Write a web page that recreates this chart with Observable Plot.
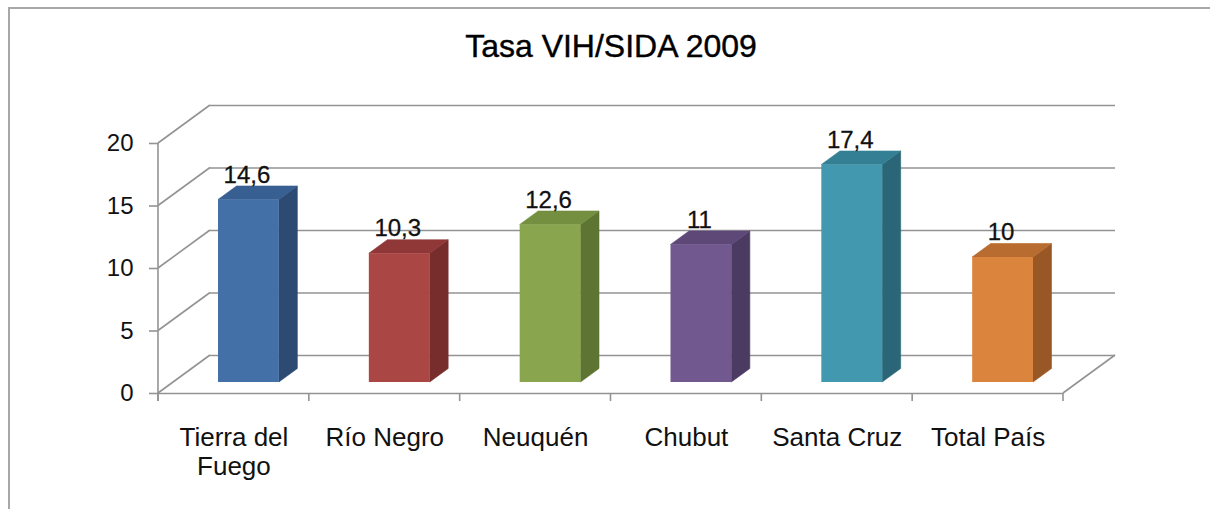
<!DOCTYPE html>
<html>
<head>
<meta charset="utf-8">
<script src="https://cdn.jsdelivr.net/npm/d3@7"></script>
<script src="https://cdn.jsdelivr.net/npm/@observablehq/plot@0.6"></script>
<style>
  body { margin: 0; background: #fff; font-family: "Liberation Sans", Arial, sans-serif; }
  #wrap { position: relative; width: 1210px; height: 509px; overflow: hidden; background: #fff; }
  #border { position: absolute; left: 8px; top: 7px; width: 1400px; height: 700px;
            border-top: 2px solid #a8a8a8; border-left: 2px solid #a8a8a8; }
  #title { position: relative; height: 90px; box-sizing: border-box; padding-top: 30px; padding-left: 12px;
           text-align: center; font-size: 32px; line-height: 32px; color: #000; -webkit-text-stroke: 0.4px #000; }
  #chart { position: relative; }
  #chart svg { display: block; }
</style>
</head>
<body>
<div id="wrap">
  <div id="border"></div>
  <div id="title">Tasa VIH/SIDA 2009</div>
  <div id="chart"></div>
</div>
<script>
// ---- data ----
const categories = ["Tierra del Fuego", "Río Negro", "Neuquén", "Chubut", "Santa Cruz", "Total País"];
const categoryLabels = ["Tierra del\nFuego", "Río Negro", "Neuquén", "Chubut", "Santa Cruz", "Total País"];
const rates = [14.6, 10.3, 12.6, 11, 17.4, 10];
const rateLabels = ["14,6", "10,3", "12,6", "11", "17,4", "10"];
const frontColors = ["#4470A8", "#AA4644", "#89A54E", "#71588F", "#4198AF", "#DB843D"];
const sideColors  = ["#2C4A72", "#772D2C", "#5D7433", "#4B3A62", "#2A6677", "#9A5726"];
const topColors   = ["#385F92", "#8F3837", "#748F3F", "#5D4878", "#347F93", "#B86C2F"];
const yTicks = [0, 5, 10, 15, 20];

// ---- styling ----
const gridColor = "#939393";
const depth = {dx: 52, dy: -38};        // back wall offset (px)
const barFront = {dx: 15, dy: -11};     // bar front face offset (px)
const barDepth = {dx: 18.5, dy: -13.5}; // bar depth (px)
const inset = 45;

const data = categories.map((c, i) => ({
  category: c, rate: rates[i], label: rateLabels[i],
  front: frontColors[i], side: sideColors[i], top: topColors[i]
}));
const labelOf = new Map(categories.map((c, i) => [c, categoryLabels[i]]));

// left wall, floor edges, axis line and category boundary ticks
function walls(index, {x, y}, values, dim) {
  const g = d3.create("svg:g").attr("fill", "none").attr("stroke", gridColor).attr("stroke-width", 1.6);
  const x0 = dim.marginLeft, x1 = dim.width - dim.marginRight;
  for (const t of yTicks) {
    g.append("line").attr("x1", x0).attr("y1", y(t)).attr("x2", x0 + depth.dx).attr("y2", y(t) + depth.dy);
  }
  g.append("line").attr("x1", x1).attr("y1", y(0)).attr("x2", x1 + depth.dx).attr("y2", y(0) + depth.dy);
  g.append("line").attr("x1", x0).attr("y1", y(yTicks[yTicks.length - 1])).attr("x2", x0).attr("y2", y(0) + 8);
  const bw = x.bandwidth();
  const bounds = categories.map(c => x(c)).concat([x(categories[categories.length - 1]) + bw]);
  for (const b of bounds) {
    g.append("line").attr("x1", b).attr("y1", y(0)).attr("x2", b).attr("y2", y(0) + 8);
  }
  return g.node();
}

// side and top faces of the 3D bars
function barFaces(index, {x, y}) {
  const g = d3.create("svg:g");
  const bw = x.bandwidth();
  for (const d of data) {
    const xl = x(d.category) + inset + barFront.dx;
    const xr = x(d.category) + bw - inset + barFront.dx;
    const yt = y(d.rate) + barFront.dy;
    const yb = y(0) + barFront.dy;
    const a = barDepth.dx, b = barDepth.dy;
    g.append("path")
      .attr("d", `M${xr},${yt}L${xr + a},${yt + b}L${xr + a},${yb + b}L${xr},${yb}Z`)
      .attr("fill", d.side).attr("stroke", d.side).attr("stroke-width", 0.6);
    g.append("path")
      .attr("d", `M${xl},${yt}L${xr},${yt}L${xr + a},${yt + b}L${xl + a},${yt + b}Z`)
      .attr("fill", d.top).attr("stroke", d.top).attr("stroke-width", 0.6);
  }
  return g.node();
}

const chart = Plot.plot({
  width: 1210,
  height: 419,
  marginLeft: 158,
  marginRight: 147,
  marginTop: 53,
  marginBottom: 116,
  style: {fontFamily: '"Liberation Sans", Arial, sans-serif', background: "transparent", color: "#1a1a1a"},
  x: {domain: categories, paddingInner: 0, paddingOuter: 0, round: false},
  y: {domain: [0, 20]},
  color: {type: "identity"},
  marks: [
    Plot.ruleY(yTicks, {dx: depth.dx, dy: depth.dy, stroke: gridColor, strokeWidth: 1.6}),
    walls,
    Plot.ruleY([0], {stroke: gridColor, strokeWidth: 1.6}),
    Plot.axisY({ticks: yTicks, tickSize: 9, tickPadding: 16, fontSize: 24, stroke: gridColor, strokeWidth: 1.6, fill: "#111", label: null}),
    Plot.axisX({tickSize: 0, tickPadding: 32, fontSize: 26, lineHeight: 1.12, tickFormat: d => labelOf.get(d), fill: "#111", label: null}),
    barFaces,
    Plot.barY(data, {x: "category", y: "rate", fill: "front", insetLeft: inset, insetRight: inset, dx: barFront.dx, dy: barFront.dy}),
    Plot.text(data, {x: "category", y: "rate", text: "label", dx: 13, dy: -28.5, lineAnchor: "bottom", fontSize: 24, fill: "#111", stroke: "#111", strokeWidth: 0.3})
  ]
});
document.getElementById("chart").appendChild(chart);
</script>
</body>
</html>
